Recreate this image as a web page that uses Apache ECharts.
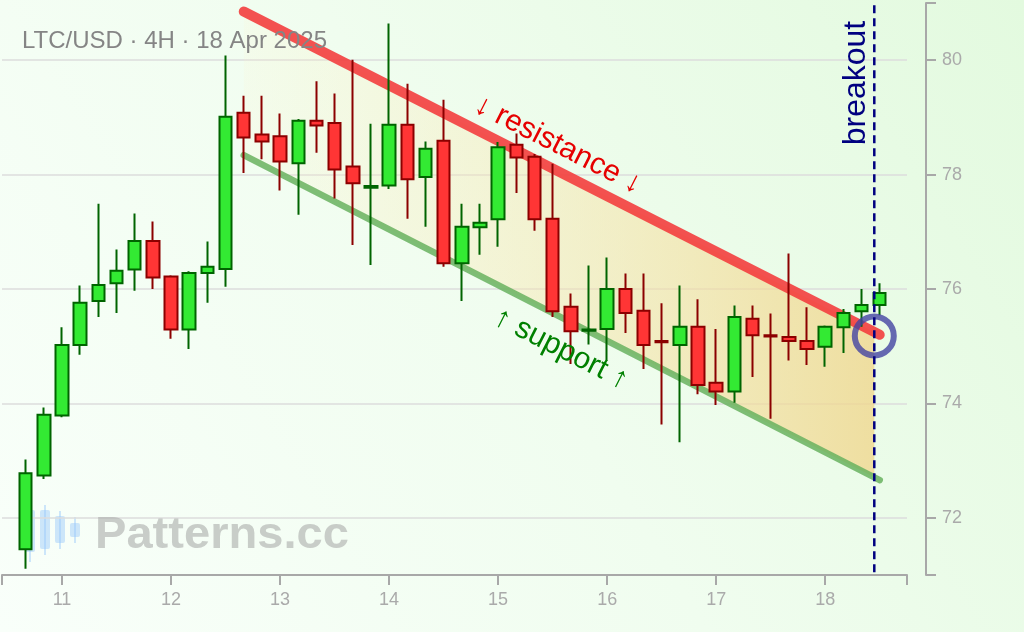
<!DOCTYPE html>
<html>
<head>
<meta charset="utf-8">
<script src="https://cdn.jsdelivr.net/npm/echarts@6/dist/echarts.min.js"></script>
<style>
html,body{margin:0;padding:0;width:1024px;height:632px;overflow:hidden;}
#chart{width:1024px;height:632px;}
</style>
</head>
<body>
<div id="chart"></div>
<script>
// ---- data (x = day of April 2025, 4H candles) ----
const times = [10.667,10.833,11.000,11.167,11.333,11.500,11.667,11.833,12.000,12.167,12.333,12.500,
  12.667,12.833,13.000,13.167,13.333,13.500,13.667,13.833,14.000,14.167,14.333,14.500,
  14.667,14.833,15.000,15.167,15.333,15.500,15.667,15.833,16.000,16.167,16.333,16.500,
  16.667,16.833,17.000,17.167,17.333,17.500,17.667,17.833,18.000,18.167,18.333,18.500];
const opens  = [71.45,72.74,73.79,75.02,75.79,76.10,76.34,76.84,76.22,75.29,76.28,76.35,
  79.08,78.70,78.67,78.20,78.94,78.90,78.14,77.77,77.81,78.87,77.96,78.59,
  76.45,77.08,77.22,78.52,78.31,77.23,75.69,75.27,75.30,76.00,75.62,75.09,
  75.02,75.34,74.36,74.21,75.48,75.19,75.16,75.09,74.99,75.33,75.61,75.72];
const closes = [72.78,73.80,75.02,75.76,76.07,76.32,76.84,76.20,75.29,76.28,76.39,79.01,
  78.65,78.58,78.23,78.94,78.86,78.09,77.85,77.80,78.87,77.92,78.45,76.45,
  77.09,77.16,78.48,78.30,77.22,75.61,75.26,75.29,76.00,75.58,75.02,75.07,
  75.34,74.32,74.21,75.51,75.19,75.17,75.09,74.95,75.34,75.58,75.72,75.93];
const lows   = [71.11,72.68,73.76,74.85,75.51,75.58,75.97,76.00,75.13,74.95,75.76,76.04,
  78.03,78.27,77.72,77.30,78.38,77.58,76.77,76.42,77.75,77.23,77.09,76.39,
  75.79,76.60,76.74,77.68,77.02,75.51,74.69,75.03,74.74,75.23,74.60,73.63,
  73.32,74.16,73.97,74.01,74.46,73.73,74.75,74.67,74.64,74.88,75.34,75.54];
const highs  = [73.02,73.93,75.33,76.06,77.49,76.69,77.32,77.18,76.24,76.31,76.83,80.08,
  79.38,79.38,79.07,78.97,79.63,79.42,80.01,78.89,80.64,79.59,78.58,79.31,
  77.49,77.49,78.57,78.72,78.36,78.19,75.92,76.41,76.55,76.27,76.27,75.75,
  76.06,75.82,75.30,75.71,75.71,75.57,76.62,75.68,75.36,75.65,76.00,76.10];

// channel lines [day, price]
const resistanceLine = [[12.667, 80.85], [18.5, 75.20]];
const supportLine    = [[12.667, 78.34], [18.5, 72.66]];
// channel fill: [day, upper, lower]
const channelFill    = [[12.667, 80.85, 78.34], [18.45, 75.25, 72.71]];
const breakoutDay    = 18.45;
const breakoutPoint  = [[18.45, 75.18]];

// axes
const xMin = 10.45, xMax = 18.75;
const xTickValues  = [10.45, 11, 12, 13, 14, 15, 16, 17, 18, 18.75];
const xLabelValues = [11, 12, 13, 14, 15, 16, 17, 18];
const yMin = 71, yMax = 81;
const yTickValues  = [71, 72, 74, 76, 78, 80, 81];
const yLabelValues = [72, 74, 76, 78, 80];

const FONT = '"Liberation Sans", Arial, Helvetica, sans-serif';

const candleData = times.map((t, i) => [t, opens[i], closes[i], lows[i], highs[i]]);

const chart = echarts.init(document.getElementById('chart'), null, {renderer: 'canvas'});

const option = {
  animation: false,
  backgroundColor: {
    type: 'linear', x: 0, y: 1, x2: 1, y2: 0,
    colorStops: [
      {offset: 0, color: '#f9fffa'},
      {offset: 0.5, color: '#f0fdef'},
      {offset: 1, color: '#e3fadf'}
    ]
  },
  grid: {left: 2, right: 117, top: 3, bottom: 57, containLabel: false},
  xAxis: {
    type: 'value', min: xMin, max: xMax, splitNumber: 8,
    axisLine: {show: true, onZero: false, lineStyle: {color: '#a8a8a8', width: 2}},
    axisTick: {show: true, length: 10, customValues: xTickValues, lineStyle: {color: '#a8a8a8', width: 2}},
    axisLabel: {customValues: xLabelValues,
      color: '#aaaaaa', fontSize: 18, margin: 16, fontFamily: FONT},
    splitLine: {show: false}
  },
  yAxis: {
    type: 'value', position: 'right', offset: 19, min: yMin, max: yMax,
    axisLine: {show: true, lineStyle: {color: '#a8a8a8', width: 2}},
    axisTick: {show: true, length: 10, customValues: yTickValues, lineStyle: {color: '#a8a8a8', width: 2}},
    axisLabel: {customValues: yLabelValues,
      color: '#aaaaaa', fontSize: 18, margin: 16, fontFamily: FONT},
    splitLine: {show: true, showMinLine: false, showMaxLine: false, lineStyle: {color: '#dcdcdc', width: 1.5}}
  },
  series: [
    {
      type: 'custom', name: 'channel', z: 1, silent: true,
      data: [[channelFill[0][0], channelFill[0][1], channelFill[0][2], channelFill[1][0], channelFill[1][1], channelFill[1][2]]],
      encode: {x: [0, 3], y: [1, 2, 4, 5]},
      renderItem: function (params, api) {
        const a = api.coord([api.value(0), api.value(1)]);
        const b = api.coord([api.value(3), api.value(4)]);
        const c = api.coord([api.value(3), api.value(5)]);
        const d = api.coord([api.value(0), api.value(2)]);
        return {
          type: 'polygon',
          shape: {points: [a, b, c, d]},
          style: {
            fill: {
              type: 'linear', x: 0, y: 0, x2: 1, y2: 0,
              colorStops: [
                {offset: 0, color: 'rgba(255,240,195,0.12)'},
                {offset: 1, color: 'rgba(240,214,140,0.78)'}
              ]
            }
          }
        };
      }
    },
    {
      type: 'line', name: 'support', z: 2, silent: true, symbol: 'none',
      data: supportLine,
      lineStyle: {color: 'rgba(105,178,95,0.85)', width: 6.5, cap: 'round'}
    },
    {
      type: 'line', name: 'resistance', z: 2, silent: true, symbol: 'none',
      data: resistanceLine,
      lineStyle: {color: 'rgba(243,62,62,0.9)', width: 10, cap: 'round'}
    },
    {
      type: 'candlestick', name: 'LTC/USD', z: 3,
      data: candleData,
      encode: {x: 0, y: [1, 2, 3, 4]},
      barWidth: 13,
      itemStyle: {
        color: '#33ea33', color0: '#ff3535',
        borderColor: '#006400', borderColor0: '#8b0000',
        borderWidth: 2
      }
    },
    {
      type: 'scatter', name: 'breakoutPoint', z: 5, silent: true,
      data: breakoutPoint, symbol: 'circle', symbolSize: 39,
      itemStyle: {color: 'rgba(0,0,0,0)', borderColor: '#4444a2', borderWidth: 6}
    },
    {
      type: 'line', name: 'breakout', z: 6, silent: true, symbol: 'none', clip: false,
      data: [[breakoutDay, yMin + 0.05], [breakoutDay, yMax + 0.05]],
      lineStyle: {color: '#000080', width: 2.5, type: [8, 5]}
    }
  ],
  graphic: [
    {
      type: 'text', x: 22, y: 41, z: 10,
      style: {text: 'LTC/USD · 4H · 18 Apr 2025', fill: '#858585', fontSize: 24, fontFamily: FONT,
        align: 'left', verticalAlign: 'middle'}
    },
    {
      type: 'text', x: 558, y: 145, rotation: -27 * Math.PI / 180, z: 10,
      style: {text: '↓ resistance ↓', fill: '#e60000', fontSize: 30, fontFamily: FONT,
        align: 'center', verticalAlign: 'middle'}
    },
    {
      type: 'text', x: 561, y: 349, rotation: -27 * Math.PI / 180, z: 10,
      style: {text: '↑ support ↑', fill: '#008000', fontSize: 30, fontFamily: FONT,
        align: 'center', verticalAlign: 'middle'}
    },
    {
      type: 'text', x: 856, y: 83, rotation: Math.PI / 2, z: 10,
      style: {text: 'breakout', fill: '#000080', fontSize: 32, fontFamily: FONT,
        align: 'center', verticalAlign: 'middle'}
    },
    {
      type: 'group', z: 10, silent: true,
      children: [
        {type: 'rect', shape: {x: 29, y: 505, width: 2, height: 57}, style: {fill: 'rgba(150,200,250,0.45)'}},
        {type: 'rect', shape: {x: 25, y: 510, width: 10, height: 42, r: 2}, style: {fill: 'rgba(150,200,250,0.45)'}},
        {type: 'rect', shape: {x: 44, y: 505, width: 2, height: 50}, style: {fill: 'rgba(150,200,250,0.45)'}},
        {type: 'rect', shape: {x: 40, y: 510, width: 10, height: 39, r: 2}, style: {fill: 'rgba(150,200,250,0.45)'}},
        {type: 'rect', shape: {x: 59, y: 511, width: 2, height: 38}, style: {fill: 'rgba(150,200,250,0.45)'}},
        {type: 'rect', shape: {x: 55, y: 516, width: 10, height: 27, r: 2}, style: {fill: 'rgba(150,200,250,0.45)'}},
        {type: 'rect', shape: {x: 74, y: 517, width: 2, height: 26}, style: {fill: 'rgba(150,200,250,0.45)'}},
        {type: 'rect', shape: {x: 70, y: 523, width: 10, height: 14, r: 2}, style: {fill: 'rgba(150,200,250,0.45)'}}
      ]
    },
    {
      type: 'text', x: 95, y: 536, z: 10, scaleX: 1.07, silent: true,
      style: {text: 'Patterns.cc', fill: 'rgba(170,172,170,0.6)', fontSize: 44, fontWeight: 'bold',
        fontFamily: FONT, align: 'left', verticalAlign: 'middle'}
    }
  ]
};
chart.setOption(option);
</script>
</body>
</html>
